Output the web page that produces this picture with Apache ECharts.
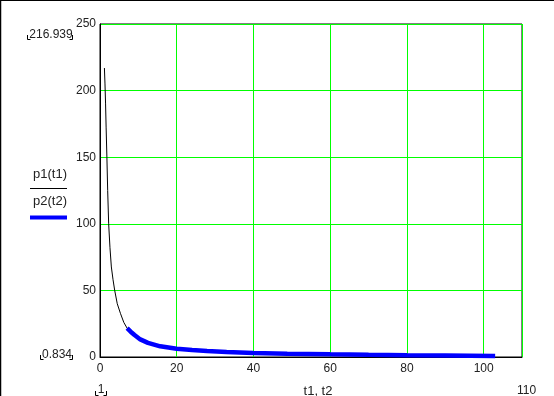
<!DOCTYPE html>
<html>
<head>
<meta charset="utf-8">
<script src="https://cdn.jsdelivr.net/npm/echarts@6/dist/echarts.min.js"></script>
<style>
html,body{margin:0;padding:0;background:#fff;}
#c{width:554px;height:396px;}
</style>
</head>
<body>
<div id="c"></div>
<script>
// thin black curve p1(t1)
const t1 = [1.15, 1.3, 1.45, 1.6, 1.8, 2.0, 2.26, 2.6, 2.96, 3.4, 3.83, 4.5, 5.32, 6.2, 7.07];
const p1 = [216.939, 205, 190, 172, 150, 125, 100, 82, 67.6, 58, 50, 40, 32.8, 26, 21.6];
// thick blue curve p2(t2)
const t2 = [7.07, 8, 9, 10.5, 12.5, 15.7, 20, 24, 27.9, 33, 40, 48.8, 60, 70, 80, 90, 103];
const p2 = [21.6, 19, 16.5, 13.2, 10.6, 8.0, 6.2, 5.2, 4.5, 3.7, 3.0, 2.5, 2.0, 1.6, 1.35, 1.15, 0.834];

const xMin = 0, xMax = 110, xStep = 20;
const yMin = 0, yMax = 250, yStep = 50;
const yTopLabel = '216.939';
const yBottomLabel = '0.834';
const xLeftLabel = '1';
const xRightLabel = '110';
const xTitle = 't1, t2';
const legendNames = ['p1(t1)', 'p2(t2)'];

const FONT = '"Liberation Sans", Arial, sans-serif';
const TXT = '#222';
const GREEN = '#00ff00';
const BLUE = '#0000ff';

function zip(a, b) { return a.map((v, i) => [v, b[i]]); }

function bracket(xl, xr, yb) {
  return [
    { type: 'polyline', silent: true, shape: { points: [[xl + 0.5, yb - 4], [xl + 0.5, yb + 0.5], [xl + 3.5, yb + 0.5]] }, style: { stroke: '#000', lineWidth: 1, fill: null } },
    { type: 'polyline', silent: true, shape: { points: [[xr - 3.5, yb + 0.5], [xr - 0.5, yb + 0.5], [xr - 0.5, yb - 4]] }, style: { stroke: '#000', lineWidth: 1, fill: null } }
  ];
}

const chart = echarts.init(document.getElementById('c'), null, { renderer: 'canvas' });
chart.setOption({
  animation: false,
  backgroundColor: '#fff',
  grid: { left: 100, right: 32, top: 24, bottom: 39, show: true, borderColor: '#000', borderWidth: 1, backgroundColor: 'transparent' },
  xAxis: {
    type: 'value', min: xMin, max: xMax, interval: xStep,
    axisLine: { show: true, onZero: false, lineStyle: { color: '#000', width: 1 } },
    axisTick: { show: false },
    axisLabel: { color: TXT, fontFamily: FONT, fontSize: 12, margin: 6, showMaxLabel: false },
    splitLine: { show: true, showMinLine: false, lineStyle: { color: GREEN, width: 1 } }
  },
  yAxis: {
    type: 'value', min: yMin, max: yMax, interval: yStep,
    axisLine: { show: true, onZero: false, lineStyle: { color: '#000', width: 1 } },
    axisTick: { show: false },
    axisLabel: { color: TXT, fontFamily: FONT, fontSize: 12, margin: 4 },
    splitLine: { show: true, showMinLine: false, showMaxLine: true, lineStyle: { color: GREEN, width: 1 } }
  },
  series: [
    { name: legendNames[0], type: 'line', data: zip(t1, p1), showSymbol: false, lineStyle: { color: '#000', width: 1 }, z: 3 },
    { name: legendNames[1], type: 'line', data: zip(t2, p2), showSymbol: false, lineStyle: { color: BLUE, width: 4.5 }, z: 2 }
  ],
  graphic: [
    { type: 'line', silent: true, shape: { x1: 0, y1: 0.5, x2: 554, y2: 0.5 }, style: { stroke: '#000', lineWidth: 1 } },
    { type: 'line', silent: true, shape: { x1: 0.5, y1: 0, x2: 0.5, y2: 396 }, style: { stroke: '#000', lineWidth: 1.5 } },
    // legend
    { type: 'text', silent: true, x: 50, y: 174, style: { text: legendNames[0], font: '13px ' + FONT, fill: TXT, align: 'center', verticalAlign: 'middle' } },
    { type: 'line', silent: true, shape: { x1: 30, y1: 188.5, x2: 67, y2: 188.5 }, style: { stroke: '#000', lineWidth: 1 } },
    { type: 'text', silent: true, x: 50, y: 201, style: { text: legendNames[1], font: '13px ' + FONT, fill: TXT, align: 'center', verticalAlign: 'middle' } },
    { type: 'line', silent: true, shape: { x1: 30, y1: 217.5, x2: 67, y2: 217.5 }, style: { stroke: BLUE, lineWidth: 4 } },
    // y range labels
    { type: 'text', silent: true, x: 51, y: 34.5, style: { text: yTopLabel, font: '12px ' + FONT, fill: TXT, align: 'center', verticalAlign: 'middle' } },
    ...bracket(27, 73, 39),
    { type: 'text', silent: true, x: 57, y: 354.5, style: { text: yBottomLabel, font: '12px ' + FONT, fill: TXT, align: 'center', verticalAlign: 'middle' } },
    ...bracket(40, 73, 359),
    // x range labels
    { type: 'text', silent: true, x: 101, y: 390, style: { text: xLeftLabel, font: '12px ' + FONT, fill: TXT, align: 'center', verticalAlign: 'middle' } },
    ...bracket(95, 107, 395),
    { type: 'text', silent: true, x: 526.5, y: 390.5, style: { text: xRightLabel, font: '12px ' + FONT, fill: TXT, align: 'center', verticalAlign: 'middle' } },
    { type: 'text', silent: true, x: 318, y: 391, style: { text: xTitle, font: '13px ' + FONT, fill: TXT, align: 'center', verticalAlign: 'middle' } }
  ]
});
</script>
</body>
</html>
